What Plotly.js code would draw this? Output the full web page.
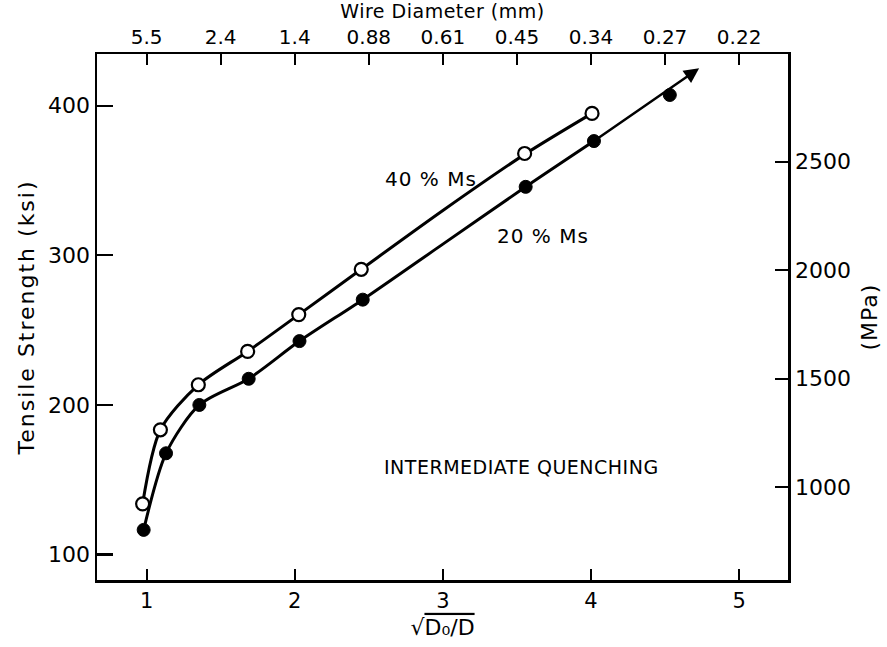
<!DOCTYPE html>
<html>
<head>
<meta charset="utf-8">
<script src="https://cdn.plot.ly/plotly-3.0.1.min.js"></script>
<style>html,body{margin:0;padding:0;background:#fff;}#chart{width:887px;height:647px;}</style>
</head>
<body>
<div id="chart"></div>
<script>
// sqrt(D0/D) values and tensile strength (ksi)
const x40 = [0.973, 1.093, 1.349, 1.682, 2.027, 2.449, 3.552, 4.007];
const y40 = [133.9, 183.4, 213.5, 235.8, 260.4, 290.7, 368.1, 394.9];
const x20 = [0.980, 1.131, 1.356, 1.689, 2.032, 2.459, 3.559, 4.020, 4.532];
const y20 = [116.5, 167.7, 200.0, 217.5, 242.7, 270.4, 345.8, 376.4, 407.2];
// drawn trend curves
const curve40X = [0.973, 1.093, 1.349, 1.682, 2.027, 2.449, 3.000, 3.552, 4.007];
const curve40Y = [133.9, 183.4, 213.5, 235.8, 260.4, 290.7, 330.0, 367.5, 394.9];
const curve20X = [0.980, 1.131, 1.356, 1.689, 2.032, 2.459, 3.000, 3.559, 4.020];
const curve20Y = [116.5, 167.7, 200.0, 217.5, 242.7, 270.4, 307.5, 345.8, 376.4];
const arrowTip = [4.73, 425.0];
// top axis: wire diameter labels
const topTickVals = [1, 1.5, 2, 2.5, 3, 3.5, 4, 4.5, 5];
const topTickText = ["5.5", "2.4", "1.4", "0.88", "0.61", "0.45", "0.34", "0.27", "0.22"];
const ksiTicks = [100, 200, 300, 400];
const mpaTicks = [1000, 1500, 2000, 2500];
const xRange = [0.665, 5.33];
const yRange = [83.0, 434.6];
const KSI_TO_MPA = 6.895;

const FONT = "DejaVu Sans, Noto Sans, sans-serif";
const BLK = "#000";
const sp = (t, px) => "<span style='letter-spacing:" + px + "px'>" + t + "</span>";

const traces = [
  {x: curve40X, y: curve40Y, mode: "lines", line: {color: BLK, width: 3, shape: "spline", smoothing: 0.8}, hoverinfo: "skip", showlegend: false},
  {x: curve20X, y: curve20Y, mode: "lines", line: {color: BLK, width: 3, shape: "spline", smoothing: 0.8}, hoverinfo: "skip", showlegend: false},
  {x: x40, y: y40, mode: "markers", name: "40% Ms", marker: {symbol: "circle", size: 13, color: "#fff", line: {color: BLK, width: 2.2}}, showlegend: false},
  {x: x20, y: y20, mode: "markers", name: "20% Ms", marker: {symbol: "circle", size: 13, color: BLK, line: {color: BLK, width: 1}}, showlegend: false},
  // invisible traces to activate secondary axes
  {x: [xRange[0]], y: [yRange[0]], xaxis: "x2", yaxis: "y", mode: "markers", marker: {opacity: 0}, hoverinfo: "skip", showlegend: false},
  {x: [xRange[0]], y: [yRange[0] * KSI_TO_MPA], xaxis: "x", yaxis: "y2", mode: "markers", marker: {opacity: 0}, hoverinfo: "skip", showlegend: false}
];

const layout = {
  width: 887, height: 647,
  margin: {l: 97, r: 99, t: 54, b: 67},
  paper_bgcolor: "#fff", plot_bgcolor: "#fff",
  font: {family: FONT, color: BLK, size: 20},
  showlegend: false,
  xaxis: {
    range: xRange, tickvals: [1, 2, 3, 4, 5], ticks: "inside", ticklen: 11, tickwidth: 2, tickcolor: BLK,
    showline: true, linecolor: BLK, linewidth: 2.5, showgrid: false, zeroline: false,
    tickfont: {size: 21, family: FONT},
    title: {text: "\u221A<span style='text-decoration:overline'>D\u2080/D</span>", font: {size: 22, family: FONT}, standoff: 8}
  },
  xaxis2: {
    overlaying: "x", side: "top", range: xRange, tickvals: topTickVals, ticktext: topTickText,
    ticks: "inside", ticklen: 11, tickwidth: 2, tickcolor: BLK,
    showline: true, linecolor: BLK, linewidth: 2.5, showgrid: false, zeroline: false,
    tickfont: {size: 20, family: FONT},
    title: {text: sp("Wire Diameter (mm)", 0.5), font: {size: 19, family: FONT}, standoff: 2}
  },
  yaxis: {
    range: yRange, tickvals: ksiTicks, ticks: "inside", ticklen: 16, tickwidth: 2.2, tickcolor: BLK,
    showline: true, linecolor: BLK, linewidth: 2.5, showgrid: false, zeroline: false,
    tickfont: {size: 22, family: FONT},
    title: {text: sp("Tensile Strength (ksi)", 2), font: {size: 22, family: FONT}, standoff: 8}
  },
  yaxis2: {
    overlaying: "y", side: "right", range: [yRange[0] * KSI_TO_MPA, yRange[1] * KSI_TO_MPA], tickvals: mpaTicks,
    ticks: "inside", ticklen: 13, tickwidth: 2, tickcolor: BLK,
    showline: true, linecolor: BLK, linewidth: 2.5, showgrid: false, zeroline: false,
    tickfont: {size: 22, family: FONT},
    title: {text: sp("(MPa)", 1), font: {size: 22, family: FONT}, standoff: 12}
  },
  annotations: [
    {x: arrowTip[0], y: arrowTip[1], ax: curve20X[curve20X.length - 1], ay: curve20Y[curve20Y.length - 1], xref: "x", yref: "y", axref: "x", ayref: "y",
     text: "", showarrow: true, arrowhead: 2, arrowsize: 1.2, arrowwidth: 2.5, arrowcolor: BLK, standoff: 0, startstandoff: 0},
    {x: 2.917, y: 351.2, xref: "x", yref: "y", text: sp("40 % Ms", 1), showarrow: false, font: {size: 20, family: FONT}},
    {x: 3.674, y: 312.8, xref: "x", yref: "y", text: sp("20 % Ms", 1), showarrow: false, font: {size: 20, family: FONT}},
    {x: 3.53, y: 158.4, xref: "x", yref: "y", text: sp("INTERMEDIATE QUENCHING", 0.5), showarrow: false, font: {size: 19, family: FONT}}
  ]
};

Plotly.newPlot("chart", traces, layout, {staticPlot: true, displayModeBar: false});
</script>
</body>
</html>
